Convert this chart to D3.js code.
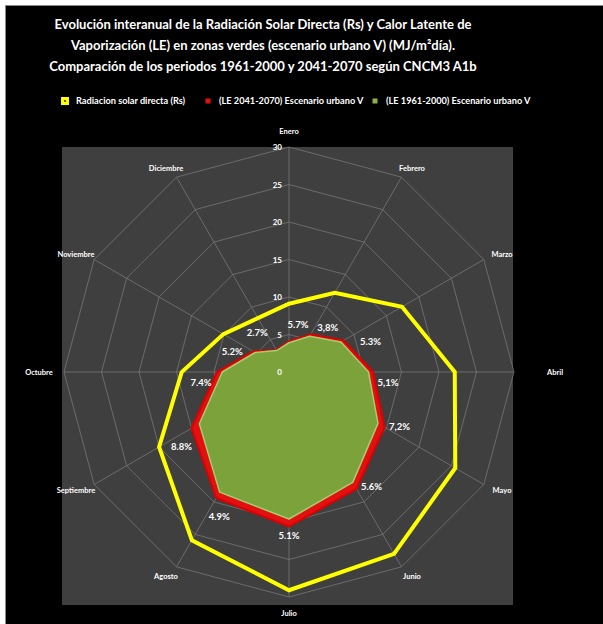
<!DOCTYPE html>
<html>
<head>
<meta charset="utf-8">
<script src="https://cdn.jsdelivr.net/npm/d3@7"></script>
<style>
  html, body { margin: 0; padding: 0; background: #fff; }
  svg { display: block; }
  text { font-family: Lato, "Open Sans", sans-serif; fill: #fff; font-weight: bold; }
</style>
</head>
<body>
<div id="chart"></div>
<script>
// months on the radar, clockwise from the top
var months = ["Enero", "Febrero", "Marzo", "Abril", "Mayo", "Junio",
              "Julio", "Agosto", "Septiembre", "Octubre", "Noviembre", "Diciembre"];

// Radiacion solar directa (Rs)
var rsValues = [9.1, 12.2, 17.4, 22.1, 25.6, 28.0, 29.1, 25.9, 20.0, 14.3, 10.1, 8.3];
// (LE 2041-2070) Escenario urbano V
var le2041 = [4.1, 5.8, 8.4, 11.2, 14.7, 18.0, 20.6, 19.4, 15.0, 9.6, 5.5, 3.4];
// (LE 1961-2000) Escenario urbano V
var le1961 = [3.9, 5.5, 8.0, 10.6, 13.7, 17.0, 19.6, 18.5, 13.8, 8.9, 5.2, 3.3];
// percentage labels shown next to each month
var pctLabels = ["5.7%", "3,8%", "5.3%", "5,1%", "7,2%", "5.6%",
                 "5.1%", "4.9%", "8.8%", "7.4%", "5.2%", "2.7%"];

var ticks = [0, 5, 10, 15, 20, 25, 30];

var titleLines = [
  "Evolución interanual de la Radiación Solar Directa (Rs) y Calor Latente de",
  "Vaporización (LE) en zonas verdes (escenario urbano V) (MJ/m²día).",
  "Comparación de los periodos 1961-2000 y 2041-2070 según CNCM3 A1b"
];
var legendNames = ["Radiacion solar directa (Rs)",
                   "(LE 2041-2070) Escenario urbano V",
                   "(LE 1961-2000) Escenario urbano V"];

var width = 603, height = 624;
var cx = 289, cy = 372, R = 225;

// nudge of each percentage label away from its 2041-2070 vertex (px)
var pctNudge = [[9, -17], [17, -7], [27, 1], [15, 10], [15, -1], [15, -2],
                [0, 9], [3, 18], [-10, 18], [-16, 10], [-21, 0], [-19, -17]];

var svg = d3.select("#chart").append("svg")
  .attr("width", width).attr("height", height);

// black frame
svg.append("rect")
  .attr("x", 5.5).attr("y", 5.5)
  .attr("width", width).attr("height", height)
  .attr("fill", "#000").attr("stroke", "#888");

// title
svg.append("g").selectAll("text")
  .data(titleLines)
  .enter().append("text")
  .attr("x", 263).attr("y", (d, i) => 29 + i * 21)
  .attr("text-anchor", "middle")
  .style("font-size", "13px")
  .text(d => d);

// legend
var legendX = [65, 208, 375];
var legendColors = ["#ffff00", "#e31010", "#8ab04a"];
var legend = svg.append("g").selectAll("g")
  .data(legendNames)
  .enter().append("g")
  .attr("transform", (d, i) => "translate(" + legendX[i] + ",101)");

legend.append("rect")
  .attr("x", (d, i) => i == 0 ? -4 : -2.5)
  .attr("y", (d, i) => i == 0 ? -4 : -2.5)
  .attr("width", (d, i) => i == 0 ? 8 : 5)
  .attr("height", (d, i) => i == 0 ? 8 : 5)
  .attr("fill", (d, i) => legendColors[i]);
legend.filter((d, i) => i == 0).append("circle")
  .attr("r", 1).attr("fill", "#333");
legend.append("text")
  .attr("x", 11).attr("y", 3)
  .style("font-size", "9.2px")
  .text(d => d);

// plot area
svg.append("rect")
  .attr("x", 62).attr("y", 147)
  .attr("width", 451).attr("height", 458)
  .attr("fill", "#3f3f3f");

var rScale = d3.scaleLinear().domain([0, 30]).range([0, R]);
var angle = d3.scalePoint().domain(months).range([0, 2 * Math.PI * 11 / 12]);

var plot = svg.append("g").attr("transform", "translate(" + cx + "," + cy + ")");

var radial = d3.lineRadial()
  .angle((d, i) => angle(months[i]))
  .radius(d => rScale(d))
  .curve(d3.curveLinearClosed);

// grid rings
plot.selectAll("path.ring")
  .data(ticks.slice(1))
  .enter().append("path")
  .attr("class", "ring")
  .attr("d", t => radial(months.map(() => t)))
  .attr("fill", "none").attr("stroke", "#767676").attr("stroke-width", 0.8);

// spokes
function px(m, v) { return rScale(v) * Math.sin(angle(m)); }
function py(m, v) { return -rScale(v) * Math.cos(angle(m)); }

plot.selectAll("line.spoke")
  .data(months)
  .enter().append("line")
  .attr("class", "spoke")
  .attr("x1", 0).attr("y1", 0)
  .attr("x2", m => px(m, 30)).attr("y2", m => py(m, 30))
  .attr("stroke", "#767676").attr("stroke-width", 0.8);

// series
plot.append("path")
  .attr("d", radial(le2041))
  .attr("fill", "#e31010").attr("stroke", "#d00").attr("stroke-width", 2)
  .attr("stroke-linejoin", "round");

plot.append("path")
  .attr("d", radial(le1961))
  .attr("fill", "#7ca23b").attr("stroke", "#a8cc70").attr("stroke-width", 1.5)
  .attr("stroke-linejoin", "round");

plot.append("path")
  .attr("d", radial(rsValues))
  .attr("fill", "none").attr("stroke", "#ffff00").attr("stroke-width", 4);

// tick labels along the Enero axis
plot.selectAll("text.tick")
  .data(ticks)
  .enter().append("text")
  .attr("class", "tick")
  .attr("x", -7).attr("y", t => -rScale(t) + 3)
  .attr("text-anchor", "end")
  .style("font-size", "8px")
  .text(t => t);

// month labels
plot.selectAll("text.month")
  .data(months)
  .enter().append("text")
  .attr("class", "month")
  .attr("x", m => {
    var s = Math.sin(angle(m));
    var extra = s > 0.99 ? 20 : (s < -0.99 ? -4 : 0);
    return 246 * s + extra;
  })
  .attr("y", m => {
    var c = Math.cos(angle(m));
    return -(Math.abs(c) > 0.99 ? 241 : 236) * c + 3;
  })
  .attr("text-anchor", "middle")
  .style("font-size", "7.5px")
  .text(m => m);

// percentage labels next to the 2041-2070 vertices
plot.selectAll("text.pct")
  .data(pctLabels)
  .enter().append("text")
  .attr("class", "pct")
  .attr("x", (d, i) => px(months[i], le2041[i]) + pctNudge[i][0])
  .attr("y", (d, i) => py(months[i], le2041[i]) + pctNudge[i][1] + 3.5)
  .attr("text-anchor", "middle")
  .style("font-size", "9.5px")
  .text(d => d);
</script>
</body>
</html>
